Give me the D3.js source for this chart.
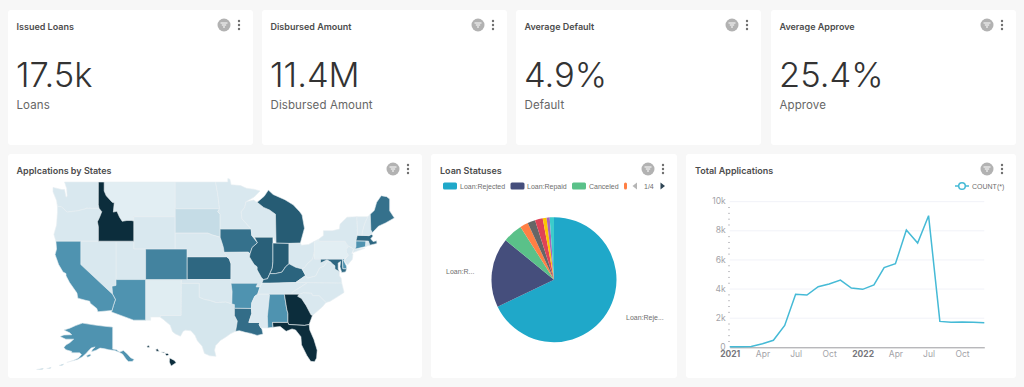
<!DOCTYPE html>
<html>
<head>
<meta charset="utf-8">
<script src="https://cdn.jsdelivr.net/npm/d3@7"></script>
<style>
  html, body { margin: 0; padding: 0; background: #f7f7f7; overflow: hidden; }
  text { font-family: Inter, "Noto Sans", sans-serif; }
  .card { fill: #fff; }
  .title { font-size: 9px; font-weight: 600; fill: #4c4c4c; }
  .kpi { font-size: 34.5px; font-weight: 300; fill: #333; }
  .kpi-label { font-size: 11.5px; fill: #666; letter-spacing: 0.1px; }
  .legend, .pie-label { font-family: "Liberation Sans", sans-serif; font-size: 7px; fill: #6e6e6e; }
  .axis text { font-size: 8.5px; fill: #a3a3a8; }
  .axis .year { fill: #77777c; font-weight: 700; }
</style>
</head>
<body>
<div id="main"></div>
<script>
// KPI tiles
var kpiTitles = ['Issued Loans', 'Disbursed Amount', 'Average Default', 'Average Approve'];
var kpiValues = ['17.5k', '11.4M', '4.9%', '25.4%'];
var kpiLabels = ['Loans', 'Disbursed Amount', 'Default', 'Approve'];

// pie
var statusNames = ['Loan:Rejected', 'Loan:Repaid', 'Canceled', 'Approved', 'Review', 'Default', 'Issued', 'Refused', 'Other'];
var statusValues = [67.9, 18, 5.1, 2.1, 2, 2, 1, 0.8, 1.1];
var statusColors = ['#1fa8c9', '#454e7c', '#5ac189', '#ff7f44', '#666666', '#e04355', '#fcc700', '#a868b7', '#3ccccb'];

// line, one value a month from Jan 2021
var months = ['2021-01', '2021-02', '2021-03', '2021-04', '2021-05', '2021-06', '2021-07', '2021-08', '2021-09', '2021-10', '2021-11', '2021-12',
    '2022-01', '2022-02', '2022-03', '2022-04', '2022-05', '2022-06', '2022-07', '2022-08', '2022-09', '2022-10', '2022-11', '2022-12'];
var counts = [40, 40, 60, 250, 480, 1500, 3640, 3590, 4160, 4350, 4620, 4070,
    3980, 4280, 5470, 5740, 8050, 7160, 9040, 1780, 1720, 1740, 1720, 1690];
var yTicks = [0, 2000, 4000, 6000, 8000, 10000];
var xTicks = ['2021-01', '2021-04', '2021-07', '2021-10', '2022-01', '2022-04', '2022-07', '2022-10'];

// map values
var stateCodes = ['WA', 'OR', 'MT', 'WY', 'ND', 'SD', 'NE', 'KS', 'OK', 'TX', 'NM', 'UT', 'NV', 'CO', 'AZ', 'CA', 'ID',
    'MN', 'IA', 'MO', 'AR', 'LA', 'WI', 'IL', 'MI', 'IN', 'OH', 'KY', 'TN', 'MS', 'AL', 'SC', 'NC', 'VA', 'WV', 'DC',
    'MD', 'DE', 'PA', 'NY', 'NJ', 'CT', 'RI', 'MA', 'VT', 'NH', 'ME', 'GA', 'FL', 'AK', 'HI'];
var stateValues = [11, 11, 6, 11, 11, 16, 11, 72, 11, 12, 7, 11, 11, 55, 45, 45, 100,
    11, 66, 11, 45, 68, 11, 76, 78, 78, 11, 74, 11, 10, 45, 11, 11, 11, 11, 11,
    72, 45, 6, 11, 11, 45, 11, 72, 10, 10, 66, 100, 100, 45, 100];

// simplified outlines, lon/lat
var stateShapes = {
    WA: [[[-124.7,48.4],[-123.2,48.15],[-122.75,48.15],[-122.5,47.3],[-122.3,47.4],[-122.4,48.3],[-122.75,49],[-117.03,49],[-117.04,46.42],[-116.92,45.99],[-118.98,46],[-119.3,45.93],[-120.5,45.7],[-121.2,45.65],[-122.3,45.55],[-122.8,45.85],[-123.2,46.15],[-123.95,46.25],[-124.1,46.9],[-124.7,47.9]]],
    OR: [[[-123.95,46.25],[-123.2,46.15],[-122.8,45.85],[-122.3,45.55],[-121.2,45.65],[-120.5,45.7],[-119.3,45.93],[-118.98,46],[-116.92,45.99],[-116.46,45.6],[-116.85,44.9],[-117.2,44.4],[-117.03,43.8],[-117.03,42],[-124.21,42],[-124.55,42.85],[-124.1,44],[-123.95,45.5]]],
    ID: [[[-117.03,49],[-116.05,49],[-116.05,48],[-115.7,47.45],[-114.7,46.7],[-114.35,46.65],[-114.5,45.55],[-113.9,45.65],[-113.45,44.95],[-113,44.45],[-112.2,44.55],[-111.5,44.55],[-111.05,44.48],[-111.05,42],[-117.03,42],[-117.03,43.8],[-117.2,44.4],[-116.85,44.9],[-116.46,45.6],[-116.92,45.99],[-117.04,46.42]]],
    MT: [[[-116.05,49],[-104.05,49],[-104.05,45],[-111.05,45],[-111.05,44.48],[-111.5,44.55],[-112.2,44.55],[-113,44.45],[-113.45,44.95],[-113.9,45.65],[-114.5,45.55],[-114.35,46.65],[-114.7,46.7],[-115.7,47.45],[-116.05,48]]],
    WY: [[[-111.05,45],[-104.05,45],[-104.05,41],[-111.05,41]]],
    ND: [[[-104.05,49],[-97.23,49],[-96.85,47.6],[-96.56,45.94],[-104.05,45.94]]],
    SD: [[[-104.05,45.94],[-96.56,45.94],[-96.85,45.6],[-96.45,45.3],[-96.45,42.5],[-97.9,42.8],[-98.5,43],[-104.05,43]]],
    NE: [[[-104.05,43],[-98.5,43],[-97.9,42.8],[-96.45,42.5],[-96.1,41.7],[-95.9,41.2],[-95.77,40.58],[-95.31,40],[-102.05,40],[-102.05,41],[-104.05,41]]],
    KS: [[[-102.05,40],[-95.31,40],[-94.9,39.75],[-94.61,39.1],[-94.62,37],[-102.05,37]]],
    OK: [[[-103,37],[-94.62,37],[-94.43,35.4],[-94.48,33.64],[-95.5,33.9],[-96.6,33.85],[-97.2,33.85],[-98.1,34.1],[-99.2,34.3],[-100,34.56],[-100,36.5],[-103,36.5]]],
    TX: [[[-106.62,32],[-103.06,32],[-103.04,36.5],[-100,36.5],[-100,34.56],[-99.2,34.3],[-98.1,34.1],[-97.2,33.85],[-96.6,33.85],[-95.5,33.9],[-94.48,33.64],[-94.04,33.55],[-94.04,32],[-93.55,31.2],[-93.72,30.3],[-93.85,29.7],[-94.7,29.35],[-95.4,28.9],[-96.4,28.35],[-97.2,27.6],[-97.4,26.9],[-97.15,25.96],[-98.2,26.05],[-99.1,26.4],[-99.5,27.5],[-100.3,28.3],[-100.7,29.1],[-101.4,29.77],[-102.3,29.87],[-102.7,29.7],[-103.15,28.98],[-104,29.3],[-104.5,29.65],[-104.9,30.6],[-106,31.4],[-106.62,31.8]]],
    NM: [[[-109.05,37],[-103,37],[-103.04,36.5],[-103.06,32],[-106.62,32],[-106.53,31.78],[-108.2,31.78],[-108.2,31.33],[-109.05,31.33]]],
    UT: [[[-114.05,42],[-111.05,42],[-111.05,41],[-109.05,41],[-109.05,37],[-114.05,37]]],
    NV: [[[-120,42],[-114.05,42],[-114.05,36.2],[-114.74,36.1],[-114.63,35],[-120,39]]],
    CO: [[[-109.05,41],[-102.05,41],[-102.05,37],[-109.05,37]]],
    AZ: [[[-114.05,37],[-109.05,37],[-109.05,31.33],[-111.07,31.33],[-114.82,32.5],[-114.72,32.72],[-114.5,33.4],[-114.15,34.26],[-114.63,35],[-114.74,36.1],[-114.05,36.2]]],
    CA: [[[-124.21,42],[-120,42],[-120,39],[-114.63,35],[-114.15,34.26],[-114.5,33.4],[-114.72,32.72],[-117.12,32.53],[-117.3,33],[-118.4,33.75],[-118.5,34.03],[-119.2,34.15],[-120.5,34.45],[-120.65,35.15],[-121.9,36.6],[-122.5,37.5],[-122.5,37.8],[-123,38],[-123.75,39],[-124.35,40.3],[-124.1,41]]],
    MN: [[[-97.23,49],[-95.15,49],[-95.15,49.38],[-94.8,49.3],[-94.6,48.7],[-93,48.6],[-92,48.3],[-90.8,48.2],[-89.7,48],[-90.7,47.3],[-92.1,46.75],[-92.3,46.1],[-92.9,45.6],[-92.75,44.75],[-91.2,43.5],[-96.45,43.5],[-96.45,45.3],[-96.85,45.6],[-96.56,45.94],[-96.85,47.6]]],
    IA: [[[-96.45,43.5],[-91.2,43.5],[-91.1,42.7],[-90.15,41.8],[-91.05,41.2],[-91.4,40.4],[-91.7,40.6],[-95.77,40.58],[-95.9,41.2],[-96.1,41.7],[-96.45,42.5]]],
    MO: [[[-95.77,40.58],[-91.7,40.6],[-91.4,40.4],[-91.5,40],[-90.7,39],[-90.2,38.7],[-90.2,38.3],[-89.5,37.3],[-89.15,37],[-89.4,36.5],[-89.7,36],[-90.37,36],[-90.1,36.5],[-94.62,36.5],[-94.62,37],[-94.61,39.1],[-94.9,39.75],[-95.31,40]]],
    AR: [[[-94.62,36.5],[-90.1,36.5],[-90.37,36],[-89.7,36],[-90.1,35],[-90.6,34.7],[-91.1,33.8],[-91.17,33],[-94.04,33.02],[-94.04,33.55],[-94.48,33.64],[-94.43,35.4]]],
    LA: [[[-94.04,33.02],[-91.17,33],[-91.1,32.3],[-91.6,31],[-89.73,31],[-89.85,30.65],[-89.55,30.2],[-89.4,30.05],[-89.2,29.3],[-90.2,29.1],[-91.3,29.4],[-92.2,29.55],[-93.2,29.8],[-93.85,29.7],[-93.72,30.3],[-93.55,31.2],[-94.04,32]]],
    WI: [[[-92.1,46.75],[-90.8,46.95],[-90.2,46.7],[-89.1,46.1],[-88.1,45.8],[-87.1,45.3],[-87,41.74],[-87.53,42.5],[-90.65,42.5],[-91.1,42.7],[-91.2,43.5],[-92.75,44.75],[-92.9,45.6],[-92.3,46.1]]],
    IL: [[[-90.65,42.5],[-87.53,42.5],[-87.53,39.35],[-87.65,38.5],[-88.05,37.8],[-88.45,37.1],[-89.15,37],[-89.5,37.3],[-90.2,38.3],[-90.2,38.7],[-90.7,39],[-91.5,40],[-91.4,40.4],[-91.05,41.2],[-90.15,41.8]]],
    MI: [[[-90.2,46.7],[-89,47.4],[-88.3,48.1],[-87.5,47.6],[-85.5,47],[-84.1,46.4],[-83,45.6],[-82.6,45.2],[-82.2,43.6],[-82.9,41.75],[-84.8,41.72],[-87,41.74],[-87.1,45.3],[-88.1,45.8],[-89.1,46.1]]],
    IN: [[[-87.53,41.76],[-84.8,41.72],[-84.8,39.1],[-85.4,38.7],[-86,38],[-87.1,37.8],[-88.05,37.8],[-87.65,38.5],[-87.53,39.35]]],
    OH: [[[-84.8,41.72],[-82.9,41.75],[-82.7,41.5],[-81.5,41.6],[-80.52,41.98],[-80.52,40.64],[-80.85,39.7],[-81.7,39.1],[-82.2,38.6],[-82.6,38.42],[-83.7,38.65],[-84.8,39.1]]],
    KY: [[[-89.15,37],[-88.45,37.1],[-88.05,37.8],[-87.1,37.8],[-86,38],[-85.4,38.7],[-84.8,39.1],[-83.7,38.65],[-82.6,38.42],[-82,37.55],[-83.68,36.6],[-88.05,36.5],[-89.4,36.5]]],
    TN: [[[-89.4,36.5],[-88.05,36.5],[-83.68,36.6],[-81.68,36.59],[-82.9,35.95],[-84.3,35.25],[-84.32,35],[-90.1,35],[-89.7,36]]],
    MS: [[[-90.1,35],[-88.2,35],[-88.1,34.9],[-88.47,31.9],[-88.4,30.2],[-89.55,30.2],[-89.85,30.65],[-89.73,31],[-91.6,31],[-91.1,32.3],[-91.17,33],[-91.1,33.8],[-90.6,34.7]]],
    AL: [[[-88.2,35],[-85.6,35],[-85.18,32.87],[-85,32.3],[-85,31],[-87.6,31],[-87.5,30.3],[-88.4,30.2],[-88.47,31.9],[-88.1,34.9]]],
    SC: [[[-83.35,34.7],[-83.1,35],[-82.4,35.2],[-81,35.15],[-80.8,34.8],[-79.7,34.8],[-78.55,33.85],[-79.2,33.2],[-80.85,32],[-81.1,32.1],[-81.9,33.4],[-82.7,34.4]]],
    NC: [[[-84.32,35],[-83.1,35],[-82.4,35.2],[-81,35.15],[-80.8,34.8],[-79.7,34.8],[-78.55,33.85],[-77.9,34],[-76.5,34.7],[-75.5,35.25],[-75.9,36.55],[-81.68,36.59],[-82.9,35.95],[-84.3,35.25]]],
    VA: [[[-83.68,36.6],[-75.9,36.55],[-76,37.2],[-76.3,37.5],[-76.3,38.05],[-77.05,38.4],[-77.05,38.85],[-77.5,39.1],[-77.73,39.32],[-78.35,39.4],[-78.9,38.8],[-79.65,38.55],[-80.3,37.5],[-81.7,37.2],[-82,37.55]]],
    WV: [[[-82.6,38.42],[-82,37.55],[-81.7,37.2],[-80.3,37.5],[-79.65,38.55],[-78.9,38.8],[-78.35,39.4],[-77.73,39.32],[-78.4,39.62],[-79.48,39.2],[-79.48,39.72],[-80.52,39.72],[-80.52,40.64],[-80.85,39.7],[-81.7,39.1],[-82.2,38.6]]],
    DC: [[[-77.12,38.93],[-77.04,39],[-76.91,38.89],[-77.04,38.79]]],
    MD: [[[-79.48,39.72],[-75.79,39.72],[-75.7,38.46],[-75.05,38.45],[-75.25,38.03],[-75.9,37.95],[-76.2,38.7],[-76.1,39.4],[-76.5,39.2],[-76.5,38.4],[-76.3,38.05],[-77.05,38.4],[-77.05,38.85],[-77.5,39.1],[-77.73,39.32],[-78.4,39.62],[-79.48,39.2]]],
    DE: [[[-75.79,39.72],[-75.4,39.8],[-75.55,39.5],[-75.1,38.8],[-75.05,38.45],[-75.7,38.46]]],
    PA: [[[-80.52,41.98],[-79.76,42.27],[-79.76,42],[-75.35,42],[-75.05,41.6],[-74.7,41.36],[-75.13,40.97],[-75.1,40.6],[-74.75,40.2],[-75.4,39.8],[-75.79,39.72],[-80.52,39.72]]],
    NY: [[[-79.76,42.27],[-79,42.7],[-79,43.3],[-77.5,43.3],[-76.3,43.5],[-76.2,44.1],[-75,44.95],[-73.35,45.01],[-73.25,43.6],[-73.27,42.75],[-73.5,42.05],[-73.5,41.3],[-73.65,41],[-72,41.1],[-74,40.55],[-73.9,41],[-74.7,41.36],[-75.05,41.6],[-75.35,42],[-79.76,42]]],
    NJ: [[[-74.7,41.36],[-73.9,41],[-74.2,40.45],[-74,40.4],[-74.1,39.7],[-74.9,38.95],[-75.55,39.5],[-74.75,40.2],[-75.1,40.6],[-75.13,40.97]]],
    CT: [[[-73.5,42.05],[-71.8,42.02],[-71.85,41.32],[-73.65,41],[-73.5,41.3]]],
    RI: [[[-71.8,42.02],[-71.38,42.02],[-71.15,41.5],[-71.85,41.32]]],
    MA: [[[-73.5,42.05],[-73.27,42.75],[-71.3,42.7],[-70.85,42.88],[-70.6,42.65],[-71,42.3],[-70.6,41.95],[-70,42.05],[-69.95,41.7],[-71.15,41.5],[-71.38,42.02]]],
    VT: [[[-73.35,45.01],[-71.5,45.01],[-72.05,44.1],[-72.45,43],[-72.45,42.73],[-73.27,42.75],[-73.25,43.6]]],
    NH: [[[-71.5,45.01],[-71.08,45.3],[-70.98,43.4],[-70.7,43.07],[-70.85,42.88],[-71.3,42.7],[-72.45,42.73],[-72.45,43],[-72.05,44.1]]],
    ME: [[[-71.08,45.3],[-70.4,45.75],[-70,46.7],[-69.23,47.46],[-68.3,47.35],[-67.8,47.07],[-67.8,45.7],[-67,44.85],[-68.5,44.25],[-69.7,43.85],[-70.7,43.07],[-70.98,43.4]]],
    GA: [[[-85.6,35],[-83.1,35],[-83.35,34.7],[-82.7,34.4],[-81.9,33.4],[-81.1,32.1],[-80.85,32],[-81.4,30.7],[-82.2,30.57],[-84.85,30.7],[-85,31],[-85,32.3],[-85.18,32.87]]],
    FL: [[[-87.6,31],[-85,31],[-84.85,30.7],[-82.2,30.57],[-81.4,30.7],[-81.3,29.9],[-80.6,28.5],[-80.05,26.9],[-80.15,25.7],[-80.5,25.15],[-81.15,25.2],[-81.8,26.1],[-82.7,27.7],[-82.8,28.9],[-83.7,29.9],[-84.3,30.05],[-85.3,29.7],[-86.3,30.4],[-87.5,30.3]]],
    AK: [[[-141,69.65],[-145,70],[-150,70.5],[-156.5,71.35],[-160,70.3],[-163,69.2],[-166,68.4],[-163,67.2],[-162,66.4],[-166,66.3],[-168,65.6],[-165,64.5],[-161,64.5],[-163,63],[-165,62],[-166,61],[-165,60],[-162,59.3],[-162,58.7],[-158,58.7],[-157,58],[-158.5,56.5],[-161,55.5],[-164.5,54.6],[-162,55.2],[-159,55.8],[-156.5,57],[-154.5,58.5],[-153.5,59.5],[-152,60.8],[-150,61.2],[-151.5,60],[-151.8,59.2],[-149.5,59.8],[-147.5,60.7],[-145,60.4],[-143,60],[-140,59.7],[-138,59],[-136,58.2],[-135,57],[-134,55.8],[-133,55],[-131,55],[-130,55.9],[-131.8,56.6],[-133.5,58.2],[-135.5,59.7],[-137.5,59],[-139,60],[-141,60.3]],
        [[-154.5,57.5],[-152.5,58.2],[-152.2,57.5],[-153.8,56.8]],
        [[-168.5,53.3],[-166,53.9],[-166.8,53.4]],
        [[-174.8,52],[-172.5,52.4],[-173,52.1]],
        [[-180,51.6],[-176.5,52],[-177,51.7]]],
    HI: [[[-159.75,22.1],[-159.4,22.23],[-159.3,21.95],[-159.6,21.9]],
        [[-158.25,21.55],[-157.97,21.7],[-157.65,21.3],[-158.1,21.3]],
        [[-157.3,21.2],[-156.7,21.17],[-156.9,21.05]],
        [[-156.7,20.9],[-156.25,20.95],[-156,20.75],[-156.4,20.58]],
        [[-155.9,20.25],[-155.1,19.85],[-154.8,19.5],[-155.65,18.95],[-155.95,19.6]]]
};

var svg = d3.select('#main').append('svg')
    .attr('width', 1024)
    .attr('height', 387)
    .style('display', 'block');

function addIcons(right, cy) {
    var g = svg.append('g').attr('transform', 'translate(' + (right - 29) + ',' + cy + ')');
    g.append('circle').attr('r', 6.5).attr('fill', '#b2b2b2');
    [[-3.5, 3.5, -2], [-2.2, 2.2, 0], [-1, 1, 2]].forEach(function (l) {
        g.append('line').attr('x1', l[0]).attr('x2', l[1]).attr('y1', l[2]).attr('y2', l[2])
            .attr('stroke', '#fff').attr('stroke-width', 1);
    });
    [-4, 0, 4].forEach(function (dy) {
        g.append('circle').attr('cx', 15).attr('cy', dy).attr('r', 1.2).attr('fill', '#6f6f6f');
    });
}

function addCard(x, y, w, h) {
    svg.append('rect').attr('class', 'card').attr('x', x).attr('y', y)
        .attr('width', w).attr('height', h).attr('rx', 3);
}

// kpi row
var kpiX = [8, 262, 516, 771];
kpiTitles.forEach(function (t, i) {
    var x = kpiX[i];
    addCard(x, 10, 245, 135);
    svg.append('text').attr('class', 'title').attr('x', x + 8.5).attr('y', 29.5).text(t);
    svg.append('text').attr('class', 'kpi').attr('x', x + 8).attr('y', 87).text(kpiValues[i]);
    svg.append('text').attr('class', 'kpi-label').attr('x', x + 8.5).attr('y', 108.5).text(kpiLabels[i]);
    addIcons(x + 245, 25);
});

// bottom row
addCard(8, 154, 414, 224);
addCard(431, 154, 246, 224);
addCard(686, 154, 330, 224);
svg.append('text').attr('class', 'title').attr('x', 16.5).attr('y', 173.5).text('Applcations by States');
svg.append('text').attr('class', 'title').attr('x', 440).attr('y', 173.5).text('Loan Statuses');
svg.append('text').attr('class', 'title').attr('x', 695).attr('y', 173.5).text('Total Applications');
addIcons(422, 169);
addIcons(677, 169);
addIcons(1016, 169);

// ---- map ----
var mercator = d3.geoMercator().scale(339).center([-124.7, 49]).translate([53, 182]);
var hawaiiMercator = d3.geoMercator().scale(339).center([-155.5, 19.6]).translate([172, 362]);
var alaskaX = d3.scaleLinear().domain([-141, -168]).range([112.7, 60]);
var alaskaY = d3.scaleLinear().domain([71.4, 55]).range([323, 361.5]);

function pathFor(code) {
    var project = function (lon, lat) { return mercator([lon, lat]); };
    if (code === 'HI') project = function (lon, lat) { return hawaiiMercator([lon, lat]); };
    if (code === 'AK') project = function (lon, lat) { return [alaskaX(lon), alaskaY(lat)]; };
    return d3.geoPath().projection(d3.geoTransform({
        point: function (lon, lat) {
            var p = project(lon, lat);
            this.stream.point(p[0], p[1]);
        }
    }));
}

var mapColor = d3.scaleLinear()
    .domain([0, 11, 45, 75, 100])
    .range(['#edf5f8', '#d9e8ef', '#4f93b0', '#2a627c', '#0c2d3c']);

svg.append('g').selectAll('path')
    .data(stateCodes)
    .enter()
    .append('path')
    .attr('d', function (code) {
        var rings = stateShapes[code].map(function (ring) {
            return [ring.concat([ring[0]])];
        });
        return pathFor(code)({type: 'MultiPolygon', coordinates: rings});
    })
    .attr('fill', function (code, i) { return mapColor(stateValues[i]); })
    .attr('stroke', '#e8eef1')
    .attr('stroke-width', 0.6);

// ---- pie ----
var pie = d3.pie().sort(null).value(function (d) { return d; });
var arc = d3.arc().innerRadius(0).outerRadius(62.5);
var pieG = svg.append('g').attr('transform', 'translate(554,279.7)');
pieG.selectAll('path')
    .data(pie(statusValues))
    .enter()
    .append('path')
    .attr('d', arc)
    .attr('fill', function (d, i) { return statusColors[i]; });

svg.append('text').attr('class', 'pie-label').attr('x', 446).attr('y', 274).text('Loan:R...');
svg.append('text').attr('class', 'pie-label').attr('x', 626).attr('y', 320).text('Loan:Reje...');

// legend, the 4th entry is cut off by the pager like the real one
var legendX = [443, 510.5, 572, 624];
var legendTextX = [460, 527, 589];
legendX.forEach(function (x, i) {
    svg.append('rect').attr('x', x).attr('y', 182.5).attr('width', i < 3 ? 14 : 3).attr('height', 7)
        .attr('rx', 1.5).attr('fill', statusColors[i]);
    if (i < 3) {
        svg.append('text').attr('class', 'legend').attr('x', legendTextX[i]).attr('y', 188.6).text(statusNames[i]);
    }
});
svg.append('path').attr('d', 'M637,182.5V189.5L632.5,186Z').attr('fill', '#b5b5b5');
svg.append('path').attr('d', 'M660.5,182.5V189.5L665,186Z').attr('fill', '#2f4554');
svg.append('text').attr('class', 'legend').attr('x', 644).attr('y', 188.6).text('1/4');

// ---- line ----
var parseMonth = d3.utcParse('%Y-%m');
var x = d3.scaleUtc()
    .domain([parseMonth(months[0]), parseMonth(months[months.length - 1])])
    .range([729.7, 984.3]);
var y = d3.scaleLinear().domain([0, 10000]).range([347.3, 201.7]);

svg.append('g').selectAll('line')
    .data(yTicks.slice(1))
    .enter()
    .append('line')
    .attr('x1', x.range()[0])
    .attr('x2', x.range()[1])
    .attr('y1', function (d) { return y(d); })
    .attr('y2', function (d) { return y(d); })
    .attr('stroke', '#f1f2f8');

var minorTicks = d3.range(0, 10000, 400).filter(function (d) { return d % 2000 !== 0; });
svg.append('g').selectAll('line')
    .data(minorTicks)
    .enter()
    .append('line')
    .attr('x1', 728)
    .attr('x2', 730)
    .attr('y1', function (d) { return y(d); })
    .attr('y2', function (d) { return y(d); })
    .attr('stroke', '#c4c4c8');

var yAxis = d3.axisLeft(y).tickValues(yTicks).tickSize(0).tickPadding(4)
    .tickFormat(function (d) { return d === 0 ? '0' : d / 1000 + 'k'; });
var yG = svg.append('g').attr('class', 'axis').attr('transform', 'translate(729.7,-0.6)').call(yAxis);
yG.select('.domain').remove();

var xAxis = d3.axisBottom(x).tickValues(xTicks.map(parseMonth)).tickSize(0).tickPadding(4)
    .tickFormat(function (d) {
        return d.getUTCMonth() === 0 ? d3.utcFormat('%Y')(d) : d3.utcFormat('%b')(d);
    });
var xG = svg.append('g').attr('class', 'axis').attr('transform', 'translate(0,347.3)').call(xAxis);
xG.select('.domain').attr('stroke', '#9a9a9e');
xG.selectAll('text').attr('class', function (d) { return d.getUTCMonth() === 0 ? 'year' : null; });

var line = d3.line()
    .x(function (d, i) { return x(parseMonth(months[i])); })
    .y(function (d) { return y(d); });
svg.append('path')
    .datum(counts)
    .attr('d', line)
    .attr('fill', 'none')
    .attr('stroke', '#45bad6')
    .attr('stroke-width', 1.5);

svg.append('line').attr('x1', 955).attr('x2', 969).attr('y1', 186).attr('y2', 186)
    .attr('stroke', '#45bad6').attr('stroke-width', 1.5);
svg.append('circle').attr('cx', 962).attr('cy', 186).attr('r', 3.3)
    .attr('fill', '#fff').attr('stroke', '#45bad6').attr('stroke-width', 1.5);
svg.append('text').attr('class', 'legend').attr('x', 972).attr('y', 188.6).text('COUNT(*)');
</script>
</body>
</html>
